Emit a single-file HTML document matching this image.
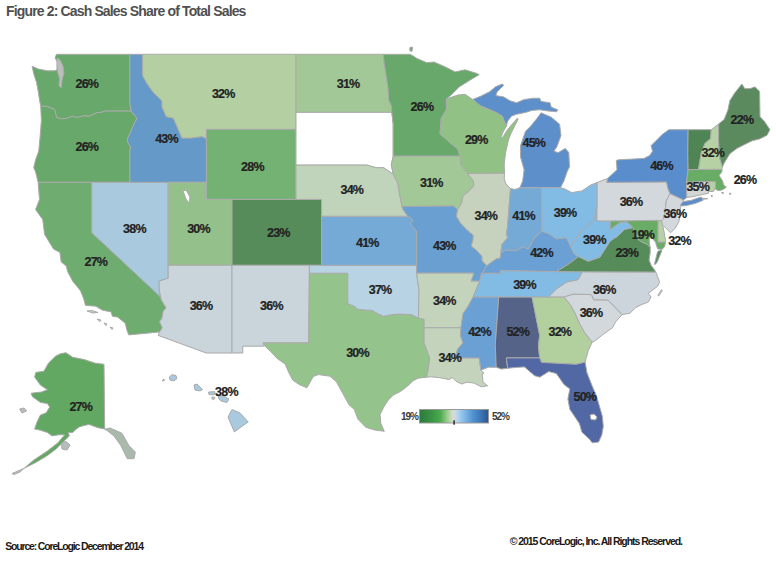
<!DOCTYPE html>
<html><head><meta charset="utf-8"><style>
html,body{margin:0;padding:0;background:#fff;}
body{width:776px;height:563px;overflow:hidden;position:relative;font-family:"Liberation Sans",sans-serif;}
.t{position:absolute;left:6px;top:3.1px;font-size:14px;font-weight:bold;color:#505050;letter-spacing:-0.85px;white-space:nowrap;}
svg{position:absolute;left:0;top:0;}
.lab text{font-family:"Liberation Sans",sans-serif;font-size:12.5px;font-weight:bold;fill:#222;stroke:#222;stroke-width:0.2px;text-anchor:middle;dominant-baseline:central;letter-spacing:-0.8px;}
.foot{position:absolute;font-size:10.5px;font-weight:bold;color:#1a1a1a;letter-spacing:-1.17px;white-space:nowrap;}
.leg{font-family:"Liberation Sans",sans-serif;font-size:10px;font-weight:bold;fill:#3a3a3a;letter-spacing:-1px;dominant-baseline:central;}
</style></head><body>
<div class="t">Figure 2: Cash Sales Share of Total Sales</div>
<svg width="776" height="563" viewBox="0 0 776 563">
<g stroke="#aaa" stroke-width="1" stroke-linejoin="round">
<path d="M56.5 54.3 L129.8 54.3 L129.8 103.3 L131.3 111.1 L105.0 111.1 L100.9 112.4 L97.0 112.6 L89.4 116.2 L83.6 115.9 L76.6 117.5 L72.7 116.2 L66.3 118.4 L61.2 118.8 L56.5 117.5 L54.8 109.6 L51.0 108.0 L46.5 106.3 L40.7 106.3 L39.5 100.0 L38.5 93.0 L36.5 82.3 L33.9 74.3 L32.1 66.3 L38.3 69.0 L47.2 70.8 L54.3 70.8 L57.0 69.9 L57.5 62.0 L55.0 58.0 L56.5 54.3Z" fill="#68a86a"/><path d="M40.7 106.3 L46.5 106.3 L51.0 108.0 L54.8 109.6 L56.5 117.5 L61.2 118.8 L66.3 118.4 L72.7 116.2 L76.6 117.5 L83.6 115.9 L89.4 116.2 L97.0 112.6 L100.9 112.4 L105.0 111.1 L131.3 111.1 L137.0 118.4 L134.1 123.9 L130.9 131.2 L127.7 138.4 L127.5 141.9 L130.7 147.3 L129.9 150.8 L129.9 182.3 L91.9 182.3 L38.1 182.3 L35.6 171.9 L33.7 167.7 L35.6 159.7 L38.8 150.8 L40.1 136.6 L41.4 120.3 L40.7 106.3Z" fill="#68a86a"/><path d="M38.1 182.3 L91.9 182.3 L91.9 232.8 L160.6 296.9 L161.4 300.0 L166.1 307.8 L163.2 311.2 L161.9 318.6 L159.5 321.6 L162.3 327.8 L159.5 332.0 L128.8 334.9 L127.1 330.8 L125.2 323.2 L117.5 317.0 L112.4 316.3 L111.1 311.9 L102.2 310.1 L95.8 306.2 L85.5 305.4 L83.6 298.4 L80.4 290.6 L72.7 281.2 L67.6 271.6 L66.3 266.1 L61.2 262.0 L59.9 252.4 L53.5 249.1 L44.6 234.4 L42.7 219.5 L35.6 209.5 L39.5 199.4 L38.1 182.3Z" fill="#6fac6f"/><path d="M91.9 182.3 L129.9 182.3 L168.2 182.3 L168.2 265.3 L168.2 278.2 L159.2 281.0 L159.2 289.1 L160.6 296.9 L91.9 232.8 L91.9 182.3Z" fill="#a9c9df"/><path d="M129.8 54.3 L142.5 54.3 L142.7 75.5 L146.4 82.6 L153.5 92.6 L162.0 101.1 L162.0 106.8 L166.3 116.7 L173.4 118.1 L177.7 128.1 L181.9 138.0 L190.5 138.0 L201.8 136.6 L206.4 138.4 L206.4 182.3 L168.2 182.3 L129.9 182.3 L129.9 150.8 L130.7 147.3 L127.5 141.9 L127.7 138.4 L130.9 131.2 L134.1 123.9 L137.0 118.4 L131.3 111.1 L129.8 103.3 L129.8 54.3Z" fill="#6499c8"/><path d="M142.5 54.3 L296.0 54.3 L296.0 112.2 L296.0 129.4 L206.4 129.4 L206.4 138.4 L201.8 136.6 L190.5 138.0 L181.9 138.0 L177.7 128.1 L173.4 118.1 L166.3 116.7 L162.0 106.8 L162.0 101.1 L153.5 92.6 L146.4 82.6 L142.7 75.5 L142.5 54.3Z" fill="#b4cfa2"/><path d="M206.4 138.4 L206.4 129.4 L296.0 129.4 L296.0 164.9 L296.0 199.4 L232.0 199.4 L206.4 199.4 L206.4 182.3 L206.4 138.4Z" fill="#74b274"/><path d="M168.2 182.3 L206.4 182.3 L206.4 199.4 L232.0 199.4 L232.0 265.3 L168.2 265.3 L168.2 182.3Z" fill="#94c08b"/><path d="M232.0 199.4 L296.0 199.4 L321.6 199.4 L321.6 216.2 L321.6 265.3 L309.4 265.3 L232.0 265.3 L232.0 199.4Z" fill="#568c5a"/><path d="M168.2 265.3 L232.0 265.3 L232.0 353.0 L206.2 353.0 L158.2 335.4 L159.5 332.0 L162.3 327.8 L159.5 321.6 L161.9 318.6 L163.2 311.2 L166.1 307.8 L161.4 300.0 L160.6 296.9 L159.2 289.1 L159.2 281.0 L168.2 278.2 L168.2 265.3Z" fill="#cad4db"/><path d="M232.0 265.3 L309.4 265.3 L309.4 273.2 L308.7 342.9 L263.1 342.9 L264.3 346.2 L242.8 346.2 L242.8 353.0 L232.0 353.0 L232.0 265.3Z" fill="#cad4db"/><path d="M309.4 273.2 L308.7 342.9 L263.1 342.9 L265.3 346.5 L271.0 351.9 L277.4 358.7 L285.1 363.9 L288.9 372.8 L292.8 380.1 L299.2 384.6 L306.9 387.8 L313.3 376.5 L318.4 374.6 L329.9 376.2 L336.3 381.6 L342.7 393.3 L349.1 404.9 L354.2 409.3 L358.0 419.3 L365.7 427.2 L374.7 430.0 L384.3 431.3 L380.9 423.5 L380.0 414.6 L383.5 407.5 L388.0 400.4 L393.3 395.1 L400.4 391.5 L407.5 386.2 L412.8 380.9 L418.2 378.2 L426.6 377.2 L428.4 368.3 L429.7 357.9 L424.1 343.1 L424.1 327.8 L424.1 319.3 L418.4 318.0 L411.8 314.7 L405.4 314.3 L399.0 314.0 L391.3 314.7 L383.6 316.3 L378.5 314.0 L372.1 310.4 L365.7 310.1 L358.0 309.3 L354.2 306.2 L347.8 303.7 L347.8 273.2 L309.4 273.2Z" fill="#94c38c"/><path d="M309.4 265.3 L321.6 265.3 L416.6 265.3 L416.6 273.2 L419.1 290.8 L418.4 318.0 L411.8 314.7 L405.4 314.3 L399.0 314.0 L391.3 314.7 L383.6 316.3 L378.5 314.0 L372.1 310.4 L365.7 310.1 L358.0 309.3 L354.2 306.2 L347.8 303.7 L347.8 273.2 L309.4 273.2 L309.4 265.3Z" fill="#b8d4e4"/><path d="M321.6 265.3 L321.6 216.2 L407.8 216.2 L411.1 218.4 L413.0 220.4 L410.5 222.9 L412.2 226.2 L416.6 231.1 L416.6 265.3 L321.6 265.3Z" fill="#75a9d6"/><path d="M296.0 199.4 L296.0 164.9 L367.0 164.9 L375.9 167.6 L383.6 167.6 L391.3 172.8 L393.2 173.8 L395.1 178.0 L397.7 182.3 L399.0 190.9 L400.3 197.7 L401.5 204.4 L401.9 206.5 L403.5 210.3 L407.8 216.2 L321.6 216.2 L321.6 199.4 L296.0 199.4Z" fill="#c0d4bb"/><path d="M296.0 112.2 L391.8 112.2 L393.2 123.9 L393.2 156.2 L391.3 164.9 L393.2 173.8 L391.3 172.8 L383.6 167.6 L375.9 167.6 L367.0 164.9 L296.0 164.9 L296.0 129.4 L296.0 112.2Z" fill="#ffffff"/><path d="M296.0 54.3 L383.2 54.3 L384.3 64.0 L386.2 75.5 L388.1 88.8 L388.7 100.0 L391.3 105.6 L391.8 112.2 L296.0 112.2 L296.0 54.3Z" fill="#a3c897"/><path d="M383.2 54.3 L409.8 54.3 L412.6 55.6 L416.9 58.4 L426.8 62.7 L433.9 62.0 L443.8 66.2 L455.1 71.9 L465.0 69.8 L476.4 73.3 L479.2 74.7 L470.7 79.7 L459.4 86.8 L450.9 95.3 L446.4 98.9 L446.4 109.6 L441.2 118.4 L440.6 127.5 L439.9 133.9 L446.3 139.3 L451.4 143.7 L457.8 149.1 L460.1 156.2 L393.2 156.2 L393.2 123.9 L391.8 112.2 L391.3 105.6 L388.7 100.0 L388.1 88.8 L386.2 75.5 L384.3 64.0 L383.2 54.3Z" fill="#68a86a"/><path d="M393.2 156.2 L460.1 156.2 L461.0 164.9 L467.6 173.6 L473.2 180.6 L473.8 185.7 L469.3 190.9 L462.9 196.0 L461.7 202.8 L457.6 209.8 L453.6 206.0 L401.9 206.5 L401.5 204.4 L400.3 197.7 L399.0 190.9 L397.7 182.3 L395.1 178.0 L393.2 173.8 L391.3 164.9 L393.2 156.2Z" fill="#a3c897"/><path d="M401.9 206.5 L453.6 206.0 L457.6 209.8 L456.5 216.2 L460.4 222.9 L466.8 229.5 L473.2 235.2 L473.2 239.3 L471.3 245.9 L477.0 250.8 L482.1 256.4 L482.1 260.4 L486.6 265.6 L483.4 271.6 L481.5 273.2 L479.6 281.2 L471.0 281.2 L473.8 273.2 L416.6 273.2 L416.6 265.3 L416.6 231.1 L412.2 226.2 L410.5 222.9 L413.0 220.4 L411.1 218.4 L407.8 216.2 L403.5 210.3 L401.9 206.5Z" fill="#6a9fd2"/><path d="M416.6 273.2 L473.8 273.2 L471.0 281.2 L479.6 281.2 L477.0 287.5 L473.2 296.9 L468.1 306.2 L462.9 314.0 L461.0 327.8 L424.1 327.8 L424.1 319.3 L418.4 318.0 L419.1 290.8 L416.6 273.2Z" fill="#c4d3bc"/><path d="M424.1 327.8 L461.0 327.8 L460.4 335.4 L462.9 342.9 L457.8 348.9 L454.8 357.9 L479.2 357.9 L480.9 370.1 L484.0 373.2 L482.2 374.1 L483.1 382.2 L487.7 385.8 L481.3 386.8 L474.1 383.1 L466.9 382.2 L461.5 384.0 L456.1 381.3 L452.5 377.7 L448.9 379.5 L439.8 377.7 L430.8 376.8 L426.6 377.2 L428.4 368.3 L429.7 357.9 L424.1 343.1 L424.1 327.8Z" fill="#c4d3bc"/><path d="M473.2 296.9 L498.8 296.9 L495.3 344.4 L496.2 367.2 L488.5 367.2 L480.9 370.1 L479.2 357.9 L454.8 357.9 L457.8 348.9 L462.9 342.9 L460.4 335.4 L461.0 327.8 L462.9 314.0 L468.1 306.2 L473.2 296.9Z" fill="#6aa0d4"/><path d="M498.8 296.9 L532.0 296.9 L539.7 335.4 L538.4 345.9 L539.7 357.9 L506.4 357.9 L506.4 358.7 L507.7 368.3 L501.3 369.1 L496.2 367.2 L495.3 344.4 L498.8 296.9Z" fill="#546387"/><path d="M532.0 296.9 L548.4 296.9 L564.0 296.9 L570.4 304.7 L575.5 314.0 L579.4 323.2 L584.5 332.3 L592.2 342.2 L588.3 350.4 L585.1 362.1 L578.1 363.9 L575.5 364.3 L541.5 362.4 L539.7 357.9 L538.4 345.9 L539.7 335.4 L532.0 296.9Z" fill="#b2cf9e"/><path d="M539.7 357.9 L541.5 362.4 L575.5 364.3 L578.1 363.9 L585.1 362.1 L587.0 372.8 L592.2 386.0 L596.6 396.2 L602.4 416.5 L603.3 426.5 L601.8 435.0 L598.6 442.1 L592.2 442.8 L589.6 439.3 L581.9 432.2 L579.4 423.6 L569.8 409.3 L567.9 399.1 L569.8 388.9 L564.0 384.6 L556.3 373.5 L548.7 371.6 L539.7 377.2 L534.6 375.7 L524.4 366.9 L514.1 367.6 L507.7 368.3 L506.4 358.7 L506.4 357.9 L539.7 357.9Z" fill="#5168a5"/><path d="M564.0 296.9 L573.0 294.1 L590.4 294.5 L591.8 295.3 L593.7 299.7 L607.9 300.0 L622.2 314.6 L615.5 321.9 L612.7 327.6 L602.7 334.7 L595.6 340.4 L592.2 342.2 L584.5 332.3 L579.4 323.2 L575.5 314.0 L570.4 304.7 L564.0 296.9Z" fill="#d3d8dc"/><path d="M548.4 296.9 L556.3 289.1 L566.6 282.0 L578.1 279.6 L582.2 271.8 L655.8 272.0 L657.5 276.4 L659.6 282.1 L657.5 286.3 L648.2 293.4 L651.1 297.0 L648.2 302.0 L641.1 304.8 L635.5 307.7 L629.8 313.3 L622.2 314.6 L607.9 300.0 L593.7 299.7 L591.8 295.3 L590.4 294.5 L573.0 294.1 L564.0 296.9 L548.4 296.9Z" fill="#cdd5dc"/><path d="M481.5 273.2 L500.4 273.2 L500.4 270.4 L556.6 271.6 L582.2 271.8 L578.1 279.6 L566.6 282.0 L556.3 289.1 L548.4 296.9 L532.0 296.9 L498.8 296.9 L473.2 296.9 L477.0 287.5 L479.6 281.2 L481.5 273.2Z" fill="#82bbe4"/><path d="M486.6 265.6 L496.2 258.8 L500.0 258.0 L500.9 252.4 L506.4 249.9 L515.4 250.8 L523.1 246.7 L528.2 249.1 L534.6 237.7 L542.0 231.1 L548.7 233.6 L556.3 238.9 L566.6 237.7 L570.4 246.4 L574.3 254.0 L578.5 256.6 L569.1 263.7 L556.6 271.6 L500.4 270.4 L500.4 273.2 L481.5 273.2 L483.4 271.6 L486.6 265.6Z" fill="#6aa0d4"/><path d="M632.9 227.5 L624.2 229.5 L617.8 236.1 L610.1 241.0 L605.0 249.1 L599.8 257.2 L588.3 261.2 L578.5 256.6 L569.1 263.7 L556.6 271.6 L582.2 271.8 L655.8 272.0 L654.4 269.7 L651.2 265.4 L649.1 260.1 L650.2 252.6 L650.2 247.3 L647.0 244.1 L643.0 242.5 L638.4 239.8 L636.0 233.0 L632.9 227.5Z" fill="#568c5a"/><path d="M610.3 220.9 L597.0 220.9 L597.0 205.5 L596.0 211.2 L593.4 221.2 L587.0 226.2 L581.3 231.1 L575.5 239.3 L570.4 246.4 L574.3 254.0 L578.5 256.6 L588.3 261.2 L599.8 257.2 L605.0 249.1 L610.1 241.0 L617.8 236.1 L624.2 229.5 L632.9 227.5 L626.7 221.5 L619.0 222.9 L610.3 229.5 L610.3 220.9Z" fill="#82bbe4"/><path d="M658.2 220.4 L610.3 220.9 L610.3 229.5 L619.0 222.9 L626.7 221.5 L632.9 227.5 L636.0 233.0 L638.4 239.8 L643.0 242.5 L647.0 244.1 L650.2 247.3 L649.2 242.0 L649.6 237.2 L651.2 237.2 L655.5 242.0 L657.6 248.9 L661.9 249.4 L664.6 246.8 L665.6 242.0 L658.0 242.0 L658.2 220.4Z" fill="#6aac66"/><path d="M658.2 220.4 L658.0 242.0 L665.6 242.0 L665.6 240.9 L664.0 231.3 L661.9 222.0 L661.5 220.6 L658.2 220.4Z" fill="#b6d2a4"/><path d="M597.0 205.5 L597.0 220.9 L610.3 220.9 L658.2 220.4 L661.5 220.6 L663.7 218.5 L665.6 207.3 L666.2 201.1 L670.0 193.6 L668.0 188.5 L666.5 181.9 L606.8 182.3 L607.8 178.3 L597.0 182.6 L597.0 205.5Z" fill="#d3d8dc"/><path d="M661.5 220.6 L663.7 218.5 L665.6 207.3 L666.2 201.1 L670.0 193.6 L683.6 199.9 L681.7 204.2 L680.5 207.3 L679.9 217.3 L678.6 222.3 L674.9 228.5 L670.5 232.8 L667.4 229.7 L662.4 224.7 L661.5 220.6Z" fill="#d3d8dc"/><path d="M670.0 193.6 L668.0 188.5 L666.5 181.9 L606.8 182.3 L607.8 178.3 L617.0 169.7 L616.3 160.5 L618.4 159.8 L632.6 159.1 L644.0 158.4 L649.7 155.5 L652.5 151.3 L651.1 145.6 L656.8 139.9 L662.5 134.2 L668.9 129.7 L688.1 129.7 L687.8 152.7 L688.1 169.7 L686.6 182.0 L686.6 190.0 L686.8 197.5 L683.6 199.9 L670.0 193.6Z" fill="#5a8dcc"/><path d="M686.8 197.5 L686.6 190.0 L686.6 182.0 L708.8 181.4 L708.8 191.5 L708.5 193.3 L700.0 195.0 L692.0 196.8 L686.8 197.5Z" fill="#d3d7d3"/><path d="M708.8 181.4 L715.6 181.6 L715.3 188.4 L713.5 191.5 L708.8 191.5 L708.8 181.4Z" fill="#b6d2a4"/><path d="M680.6 204.6 L683.7 201.5 L691.5 200.3 L699.2 197.6 L701.5 197.2 L703.1 200.3 L695.3 203.4 L687.6 205.3 L681.4 206.1Z" fill="#5a8dcc"/><path d="M659.8 250.5 L661.9 250.5 L657.6 261.2 L656.0 263.8 L654.4 264.4 L655.5 260.0 L657.6 251.6Z" fill="#568c5a"/><path d="M590.0 415.0 L594.0 414.0 L597.0 417.0 L595.5 420.0 L591.0 419.5Z" fill="#ffffff"/><path d="M409.8 47.5 L412.6 47.0 L412.0 51.3 L410.0 51.0Z" fill="#68a86a"/><path d="M57.0 58.0 L60.0 60.0 L63.0 66.0 L64.0 73.0 L62.0 80.0 L61.5 87.6 L59.0 86.0 L59.5 78.0 L57.5 72.0 L57.0 65.0Z" fill="#bdbdbd"/><path d="M183.0 191.0 L186.0 190.0 L190.0 197.0 L189.0 203.0 L186.0 199.0Z" fill="#ffffff"/><path d="M686.6 182.0 L688.1 169.7 L698.5 169.5 L716.3 169.2 L722.0 169.5 L722.0 171.4 L719.2 175.6 L720.6 177.8 L722.7 181.3 L723.4 184.2 L724.9 186.3 L726.3 187.0 L724.9 188.4 L722.0 189.9 L719.2 190.6 L716.3 189.9 L715.3 188.4 L715.6 181.6 L708.8 181.4 L686.6 182.0Z" fill="#68ac66"/><path d="M688.1 169.7 L687.8 152.7 L688.1 129.7 L711.3 129.7 L710.6 138.5 L704.9 143.5 L701.3 152.7 L699.9 161.2 L698.5 169.5 L688.1 169.7Z" fill="#4f8555"/><path d="M698.5 169.5 L699.9 161.2 L701.3 152.7 L704.9 143.5 L710.6 138.5 L711.3 129.7 L718.6 124.0 L718.6 140.8 L719.6 157.6 L722.4 166.9 L722.0 169.5 L716.3 169.2 L698.5 169.5Z" fill="#b6d2a4"/><path d="M718.6 124.0 L724.2 119.4 L727.9 110.0 L729.8 100.7 L734.5 93.3 L738.2 88.6 L741.9 84.0 L744.7 88.6 L750.3 88.6 L755.0 86.8 L759.6 91.4 L760.0 116.6 L764.3 121.2 L769.9 129.6 L767.1 135.2 L759.6 138.9 L752.2 140.8 L744.7 144.5 L737.3 148.2 L729.8 153.8 L724.2 163.1 L722.4 166.9 L719.6 157.6 L718.6 140.8 L718.6 124.0Z" fill="#5b8a5e"/><path d="M519.8 187.8 L522.7 181.0 L524.1 169.7 L520.5 156.9 L520.5 145.5 L525.5 131.3 L531.2 125.6 L536.9 118.5 L541.1 112.8 L551.1 117.1 L559.6 124.2 L561.0 135.6 L556.8 146.9 L553.9 151.2 L558.2 152.6 L565.3 148.4 L568.8 152.6 L569.5 166.8 L567.4 171.1 L563.9 181.0 L560.5 187.5 L541.6 187.8Z" fill="#5d8fcb"/><path d="M472.7 99.5 L480.5 96.3 L489.5 91.8 L495.9 86.6 L502.4 84.0 L503.7 85.3 L497.2 91.8 L495.9 95.6 L503.7 96.9 L510.1 100.8 L516.5 102.7 L524.3 99.5 L533.3 98.2 L539.7 98.2 L541.0 101.4 L550.0 102.7 L551.3 107.2 L557.8 109.8 L556.5 111.7 L548.8 111.1 L539.7 109.8 L532.0 110.4 L525.6 112.4 L516.5 114.3 L511.4 116.2 L507.5 121.4 L506.2 126.5 L502.4 116.2 L495.9 112.4 L488.2 109.1 L480.5 105.9 L472.7 99.5Z" fill="#5d8fcb"/><path d="M472.7 99.5 L480.5 105.9 L488.2 109.1 L495.9 112.4 L502.4 116.2 L506.2 126.5 L503.5 131.0 L500.8 137.5 L502.5 137.5 L508.0 129.0 L517.5 118.0 L518.0 119.5 L511.3 132.7 L508.5 139.8 L505.6 152.6 L504.2 164.0 L504.5 173.2 L467.6 173.6 L461.0 164.9 L460.1 156.2 L457.8 149.1 L451.4 143.7 L446.3 139.3 L439.9 133.9 L440.6 127.5 L441.2 118.4 L446.4 109.6 L446.4 98.9 L458.0 95.0 L465.0 94.3 L472.7 99.5Z" fill="#91c184"/><path d="M467.6 173.6 L504.5 173.2 L504.2 179.0 L506.0 184.0 L510.5 188.5 L507.5 227.0 L506.4 234.4 L507.7 237.7 L502.0 244.2 L500.9 252.4 L500.0 258.0 L496.2 258.8 L486.6 265.6 L482.1 260.4 L482.1 256.4 L477.0 250.8 L471.3 245.9 L473.2 239.3 L473.2 235.2 L466.8 229.5 L460.4 222.9 L456.5 216.2 L457.6 209.8 L461.7 202.8 L462.9 196.0 L469.3 190.9 L473.8 185.7 L473.2 180.6 L467.6 173.6Z" fill="#c6d2bd"/><path d="M542.0 231.1 L541.6 187.8 L519.8 187.8 L515.0 189.5 L510.5 188.5 L507.5 227.0 L506.4 234.4 L507.7 237.7 L502.0 244.2 L500.9 252.4 L506.4 249.9 L515.4 250.8 L523.1 246.7 L528.2 249.1 L534.6 237.7 L542.0 231.1Z" fill="#76aad6"/><path d="M541.6 187.8 L560.5 187.5 L565.3 189.2 L571.7 192.6 L581.9 190.9 L590.9 184.9 L597.0 182.6 L597.0 205.5 L596.0 211.2 L593.4 221.2 L587.0 226.2 L581.3 231.1 L575.5 239.3 L570.4 246.4 L566.6 237.7 L556.3 238.9 L548.7 233.6 L542.0 231.1 L541.6 187.8Z" fill="#82bbe4"/><path d="M60.1 353.9 L65.9 352.7 L72.8 357.3 L84.3 359.6 L94.8 363.1 L104.0 364.3 L104.7 429.0 L98.2 427.8 L89.0 424.4 L84.3 425.5 L79.7 426.7 L76.3 429.0 L72.8 432.5 L68.2 432.5 L69.3 435.9 L63.5 441.7 L56.6 448.6 L47.4 455.6 L35.8 462.5 L24.2 468.3 L33.5 460.2 L47.4 451.0 L57.8 442.9 L64.7 434.8 L58.9 434.8 L52.0 435.9 L47.4 432.5 L40.4 430.2 L34.6 429.0 L37.0 422.1 L40.4 415.1 L46.2 412.8 L49.7 407.0 L47.4 403.6 L40.4 402.4 L32.3 396.6 L31.2 393.2 L41.6 392.0 L47.4 389.7 L40.4 385.1 L34.6 377.0 L35.8 372.4 L43.9 371.2 L48.5 363.1 L55.5 356.2Z" fill="#62a862"/><path d="M104.7 429.3 L110.0 428.0 L122.0 433.3 L128.7 445.3 L135.3 452.0 L134.0 458.7 L127.3 458.7 L120.7 445.3 L114.0 436.0 L107.3 430.7Z" fill="#a9b9aa"/><path d="M61.5 443.0 L66.0 441.5 L70.0 445.0 L67.0 450.0 L62.0 449.0Z" fill="#b9bcbc"/><path d="M19.6 409.0 L24.0 408.0 L26.6 411.0 L22.0 413.0Z" fill="#b9bcbc"/><path d="M24.0 468.3 L18.0 471.0 L12.0 473.5 L14.0 474.5 L20.0 472.0Z" fill="#b9bcbc"/><path d="M87.0 311.0 L92.0 310.5 L98.0 312.5 L93.0 313.0Z" fill="#c9cccc"/><path d="M97.0 319.0 L101.0 320.0 L100.0 321.5Z" fill="#c9cccc"/><path d="M104.0 323.0 L107.0 324.0 L106.0 325.5Z" fill="#c9cccc"/><path d="M110.0 327.0 L113.0 328.0 L112.0 329.5Z" fill="#c9cccc"/><path d="M721.5 192.5 L723.5 192.5 L723.0 194.0Z" fill="#bbbbbb"/><path d="M729.5 193.0 L731.0 193.5 L730.0 194.8Z" fill="#bbbbbb"/><path d="M711.0 195.5 L712.5 195.7 L711.8 197.0Z" fill="#bbbbbb"/><path d="M702.5 198.2 L707.7 198.8 L703.0 199.2Z" fill="#bbbbbb"/><path d="M661.5 289.5 L662.3 290.8 L658.6 296 L657.8 295.4Z" fill="#cdd5dc"/><path d="M169.3 377.0 L172.0 374.7 L176.0 375.5 L177.0 378.5 L174.0 380.9 L170.0 380.0Z" fill="#a9c9df"/><path d="M194.0 385.0 L197.0 384.0 L202.6 389.5 L200.0 390.9 L195.0 390.0Z" fill="#a9c9df"/><path d="M208.5 392.0 L215.0 391.7 L214.0 394.8 L209.0 394.5Z" fill="#a9c9df"/><path d="M211.9 397.0 L215.0 397.5 L214.0 399.4 L212.0 399.0Z" fill="#a9c9df"/><path d="M218.0 396.0 L223.0 395.6 L228.9 399.0 L227.0 402.5 L221.0 401.0 L219.0 399.0Z" fill="#a9c9df"/><path d="M232.0 409.5 L240.0 413.0 L248.2 421.9 L241.0 427.0 L234.3 431.9 L231.0 424.0 L228.0 417.2Z" fill="#a9c9df"/><path d="M162.0 381.0 L164.0 379.0 L164.5 380.5Z" fill="#a9c9df"/>
</g>
<g class="lab"><text x="86.8" y="83.8">26%</text><text x="86.8" y="147.1">26%</text><text x="95.8" y="262.2">27%</text><text x="134.4" y="228.6">38%</text><text x="166.5" y="138.7">43%</text><text x="223.2" y="93.7">32%</text><text x="252.4" y="166.8">28%</text><text x="198.5" y="228.6">30%</text><text x="278.3" y="232.6">23%</text><text x="201" y="305.9">36%</text><text x="271.4" y="305.9">36%</text><text x="348.1" y="83.5">31%</text><text x="351.8" y="190.3">34%</text><text x="367.3" y="242.5">41%</text><text x="380.1" y="290.4">37%</text><text x="357.5" y="353.4">30%</text><text x="421.9" y="106.8">26%</text><text x="431.3" y="183.1">31%</text><text x="444.3" y="246.2">43%</text><text x="444.3" y="300.7">34%</text><text x="449.8" y="357.9">34%</text><text x="476.2" y="139.8">29%</text><text x="485.8" y="216.2">34%</text><text x="533.8" y="142.5">45%</text><text x="523.6" y="216.2">41%</text><text x="565.1" y="212.9">39%</text><text x="541.5" y="252.9">42%</text><text x="524.5" y="285.4">39%</text><text x="479.5" y="332">42%</text><text x="517.7" y="332">52%</text><text x="559.8" y="332">32%</text><text x="584.8" y="397.2">50%</text><text x="591" y="312.8">36%</text><text x="604.3" y="289.6">36%</text><text x="626.7" y="252.5">23%</text><text x="594.4" y="239.8">39%</text><text x="642.8" y="234.9">19%</text><text x="679.5" y="240.9">32%</text><text x="631" y="201.7">36%</text><text x="674.9" y="214.4">36%</text><text x="661.5" y="165.9">46%</text><text x="712.8" y="153.4">32%</text><text x="741.9" y="120.3">22%</text><text x="697.7" y="187.2">35%</text><text x="745" y="180.1">26%</text><text x="80.7" y="406.8">27%</text><text x="226.4" y="391.8">38%</text></g>
<defs><linearGradient id="lg" x1="0" x2="1" y1="0" y2="0">
<stop offset="0" stop-color="#2d7a3a"/><stop offset="0.18" stop-color="#3b9447"/><stop offset="0.3" stop-color="#4ba94d"/><stop offset="0.4" stop-color="#98cc8c"/><stop offset="0.47" stop-color="#cfdcc6"/><stop offset="0.5" stop-color="#d9d9d9"/><stop offset="0.54" stop-color="#b9d7ef"/><stop offset="0.62" stop-color="#8fc2ea"/><stop offset="0.78" stop-color="#4e91d1"/><stop offset="0.9" stop-color="#3c72b2"/><stop offset="1" stop-color="#2c5591"/>
</linearGradient></defs>
<rect x="419.5" y="409.5" width="69" height="13.5" fill="url(#lg)" stroke="#999" stroke-width="1"/>
<rect x="453.3" y="420.3" width="1.6" height="4.4" fill="#333"/>
<text class="leg" x="401" y="416">19%</text><text class="leg" x="492" y="416">52%</text>
</svg>
<div class="foot" style="left:5.2px;top:539.8px">Source: CoreLogic December 2014</div>
<div class="foot" style="left:509.7px;top:534.8px;letter-spacing:-1.05px">© 2015 CoreLogic, Inc. All Rights Reserved.</div>
</body></html>
